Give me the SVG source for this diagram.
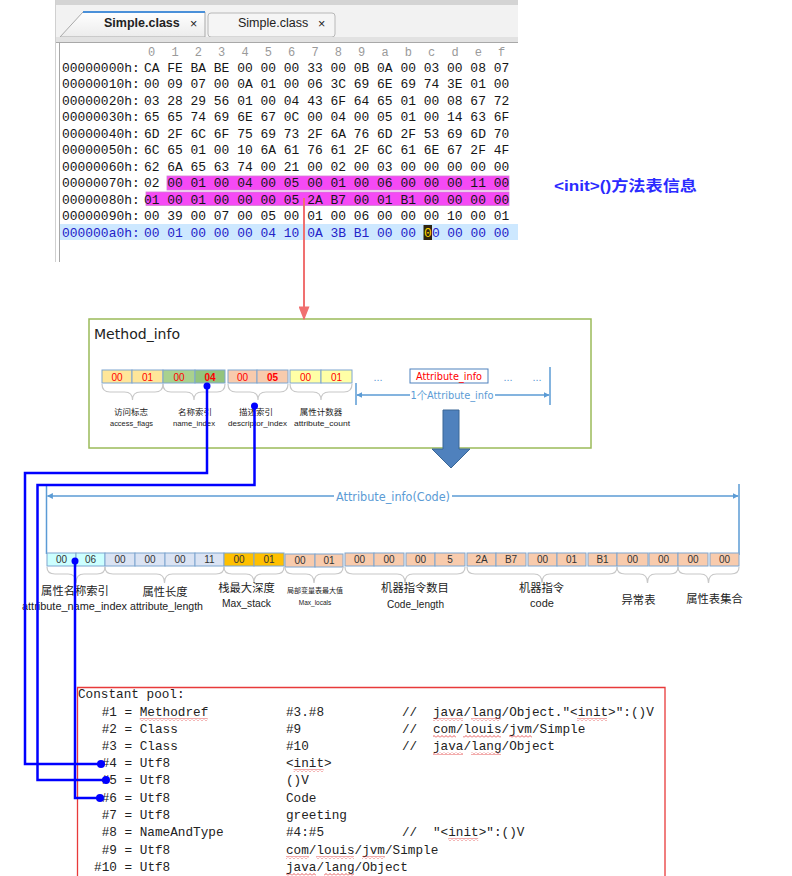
<svg xmlns="http://www.w3.org/2000/svg" width="792" height="876" viewBox="0 0 792 876">
  <defs>
    <style>
      .hex { font-family: "Liberation Mono", "DejaVu Sans Mono", monospace; font-size: 12.96px; fill: #161616; }
      .hexsel { fill: #2323c8; }
      .hdr { font-family: "Liberation Mono", monospace; font-size: 12px; fill: #9a9a9a; }
      .tab { font-family: "Liberation Sans", "Noto Sans", sans-serif; font-size: 12.5px; fill: #222; }
      .cp { font-family: "Liberation Mono", "Courier New", monospace; font-size: 12.7px; fill: #222; }
      .cell { stroke: #7ea6d0; stroke-width: 1; }
      .mtxt { font-family: "Liberation Sans", sans-serif; font-size: 10px; fill: #ff0000; text-anchor: middle; }
      .atxt { font-family: "Liberation Sans", sans-serif; font-size: 10px; fill: #333; text-anchor: middle; }
      .brace { fill: none; stroke: #c8c8c8; stroke-width: 1.2; }
      .zh9 { font-family: "Noto Sans CJK SC", sans-serif; font-size: 8.5px; fill: #222; text-anchor: middle; }
      .en7 { font-family: "Liberation Sans", sans-serif; font-size: 7.5px; fill: #222; text-anchor: middle; }
      .zh11 { font-family: "Noto Sans CJK SC", sans-serif; font-size: 11.3px; fill: #222; text-anchor: middle; }
      .en11 { font-family: "Liberation Sans", sans-serif; font-size: 11px; fill: #222; text-anchor: middle; }
      .hand { font-family: "DejaVu Sans", "Liberation Sans", sans-serif; fill: #5b9bd5; }
      .dots { font-family: "Liberation Sans", sans-serif; font-size: 11px; fill: #5b9bd5; text-anchor: middle; }
      .link { fill: none; stroke: #0000ff; stroke-width: 2.5; }
      .dot { fill: #0000ff; }
      .dim { fill: none; stroke: #5b9bd5; stroke-width: 1.5; }
      .wave { fill: url(#squiggle); }
    </style>
    <pattern id="squiggle" x="0" y="0" width="4" height="3" patternUnits="userSpaceOnUse">
      <path d="M0 2.5 L2 0.5 L4 2.5" fill="none" stroke="#e03030" stroke-width="0.8"/>
    </pattern>
    <marker id="dimEnd" viewBox="0 0 10 10" refX="9" refY="5" markerWidth="6" markerHeight="6" orient="auto-start-reverse" markerUnits="userSpaceOnUse">
      <path d="M0 0 L10 5 L0 10 z" fill="#5b9bd5"/>
    </marker>
    <marker id="redHead" viewBox="0 0 10 10" refX="9" refY="5" markerWidth="14" markerHeight="11" orient="auto" markerUnits="userSpaceOnUse" preserveAspectRatio="none">
      <path d="M0 0 L10 5 L0 10 z" fill="#f07070"/>
    </marker>
    <linearGradient id="tabGrad" x1="0" y1="0" x2="0" y2="1">
      <stop offset="0" stop-color="#ffffff"/>
      <stop offset="1" stop-color="#ececec"/>
    </linearGradient>
  </defs>

  <rect width="792" height="876" fill="#ffffff"/>

  <!-- hex editor window -->
  <g id="hex-editor">
    <rect x="55" y="0" width="463" height="42" fill="#f2f2f2"/>
    <rect x="55" y="0" width="463" height="5" fill="#d4d4d4"/>
    <polygon points="60,37 83,12 205,12 205,37" fill="url(#tabGrad)" stroke="#a9a9a9" stroke-width="1"/>
    <line x1="83" y1="12" x2="205" y2="12" stroke="#4a90d9" stroke-width="2"/>
    <text class="tab" x="104" y="27" font-weight="bold">Simple.class</text>
    <text class="tab" x="190" y="28" font-size="12">×</text>
    <rect x="208" y="13" width="127" height="24" rx="3" fill="#f5f5f5" stroke="#b8b8b8"/>
    <text class="tab" x="238" y="27">Simple.class</text>
    <text class="tab" x="318" y="28" font-size="12">×</text>
    <rect x="55" y="37" width="463" height="5" fill="#e2e2e2"/>
    <line x1="55" y1="42.5" x2="518" y2="42.5" stroke="#a8a8a8"/>
    <rect x="59.5" y="43" width="458.5" height="219" fill="#ffffff"/>
    <line x1="59.5" y1="43" x2="59.5" y2="262" stroke="#a8a8a8"/>
    <line x1="55.5" y1="0" x2="55.5" y2="262" stroke="#d0d0d0"/>

    <!-- column header -->
    <g class="hdr" text-anchor="middle">
      <text x="151.7" y="56">0</text><text x="175" y="56">1</text><text x="198.4" y="56">2</text><text x="221.7" y="56">3</text>
      <text x="245" y="56">4</text><text x="268.4" y="56">5</text><text x="291.7" y="56">6</text><text x="315" y="56">7</text>
      <text x="338.3" y="56">8</text><text x="361.7" y="56">9</text><text x="385" y="56">a</text><text x="408.3" y="56">b</text>
      <text x="431.7" y="56">c</text><text x="455" y="56">d</text><text x="478.3" y="56">e</text><text x="501.7" y="56">f</text>
    </g>

    <!-- highlighted method bytes and current row -->
    <rect x="167" y="176" width="342" height="14" fill="#f54af5" stroke="#d27fd2" stroke-width="0.8"/>
    <rect x="146" y="192" width="363" height="13.5" fill="#f54af5" stroke="#d27fd2" stroke-width="0.8"/>
    <rect x="60" y="224" width="458" height="16" fill="#cde8ff"/>
    <rect x="423.5" y="225" width="8.5" height="15" fill="#2e2410"/>

    <g class="hex">
      <text x="62" y="71.5">00000000h:</text><text x="143.9" y="71.5" xml:space="preserve">CA FE BA BE 00 00 00 33 00 0B 0A 00 03 00 08 07</text>
      <text x="62" y="88">00000010h:</text><text x="143.9" y="88" xml:space="preserve">00 09 07 00 0A 01 00 06 3C 69 6E 69 74 3E 01 00</text>
      <text x="62" y="104.5">00000020h:</text><text x="143.9" y="104.5" xml:space="preserve">03 28 29 56 01 00 04 43 6F 64 65 01 00 08 67 72</text>
      <text x="62" y="121">00000030h:</text><text x="143.9" y="121" xml:space="preserve">65 65 74 69 6E 67 0C 00 04 00 05 01 00 14 63 6F</text>
      <text x="62" y="137.5">00000040h:</text><text x="143.9" y="137.5" xml:space="preserve">6D 2F 6C 6F 75 69 73 2F 6A 76 6D 2F 53 69 6D 70</text>
      <text x="62" y="154">00000050h:</text><text x="143.9" y="154" xml:space="preserve">6C 65 01 00 10 6A 61 76 61 2F 6C 61 6E 67 2F 4F</text>
      <text x="62" y="170.5">00000060h:</text><text x="143.9" y="170.5" xml:space="preserve">62 6A 65 63 74 00 21 00 02 00 03 00 00 00 00 00</text>
      <text x="62" y="187">00000070h:</text><text x="143.9" y="187" xml:space="preserve">02 00 01 00 04 00 05 00 01 00 06 00 00 00 11 00</text>
      <text x="62" y="203.5">00000080h:</text><text x="143.9" y="203.5" xml:space="preserve">01 00 01 00 00 00 05 2A B7 00 01 B1 00 00 00 00</text>
      <text x="62" y="220">00000090h:</text><text x="143.9" y="220" xml:space="preserve">00 39 00 07 00 05 00 01 00 06 00 00 00 10 00 01</text>
      <text class="hexsel" x="62" y="236.5">000000a0h:</text>
      <text class="hexsel" x="143.9" y="236.5" xml:space="preserve">00 01 00 00 00 04 10 0A 3B B1 00 00</text>
      <text x="424" y="236.5" fill="#ffd700">0</text>
      <text class="hexsel" x="432" y="236.5">0</text>
      <text class="hexsel" x="447.2" y="236.5" xml:space="preserve">00 00 00</text>
    </g>
  </g>

  <!-- caption for the highlighted bytes -->
  <g id="caption">
    <text x="554" y="191" font-family="Liberation Sans, Noto Sans CJK SC, sans-serif" font-size="14.5" font-weight="bold" fill="#2b2bff" textLength="143" lengthAdjust="spacingAndGlyphs">&lt;init&gt;()方法表信息</text>
  </g>

  <!-- Method_info structure -->
  <g id="method-info">
    <rect x="89" y="319" width="502" height="129" fill="#ffffff" stroke="#9bbb59" stroke-width="1.5"/>
    <text x="94" y="339" font-family="DejaVu Sans, sans-serif" font-size="14.5" fill="#222" textLength="86" lengthAdjust="spacingAndGlyphs">Method_info</text>

    <rect class="cell" x="102" y="370" width="30" height="13" fill="#ffe699"/>
    <rect class="cell" x="132" y="370" width="31" height="13" fill="#ffe699"/>
    <rect class="cell" x="163" y="370" width="32" height="13" fill="#a9d18e"/>
    <rect class="cell" x="195" y="370" width="30" height="13" fill="#93c47d"/>
    <rect class="cell" x="228" y="370" width="29" height="13" fill="#f8cbad"/>
    <rect class="cell" x="257" y="370" width="31" height="13" fill="#f8cbad"/>
    <rect class="cell" x="290" y="370" width="31" height="13" fill="#ffffa6"/>
    <rect class="cell" x="321" y="370" width="31" height="13" fill="#ffffa6"/>
    <text class="mtxt" x="117" y="380.5">00</text>
    <text class="mtxt" x="147.5" y="380.5">01</text>
    <text class="mtxt" x="179" y="380.5">00</text>
    <text class="mtxt" x="210" y="380.5" font-weight="bold">04</text>
    <text class="mtxt" x="242.5" y="380.5">00</text>
    <text class="mtxt" x="272.5" y="380.5" font-weight="bold">05</text>
    <text class="mtxt" x="305.5" y="380.5">00</text>
    <text class="mtxt" x="336.5" y="380.5">01</text>

    <path class="brace" d="M102 384 C102 390 105 392 110 392 L124.5 392 C129.5 392 132.5 394 132.5 400 C132.5 394 135.5 392 140.5 392 L155 392 C160 392 163 390 163 384"/>
    <path class="brace" d="M163 384 C163 390 166 392 171 392 L186 392 C191 392 194 394 194 400 C194 394 197 392 202 392 L217 392 C222 392 225 390 225 384"/>
    <path class="brace" d="M228 384 C228 390 231 392 236 392 L250 392 C255 392 258 394 258 400 C258 394 261 392 266 392 L280 392 C285 392 288 390 288 384"/>
    <path class="brace" d="M290 384 C290 390 293 392 298 392 L313 392 C318 392 321 394 321 400 C321 394 324 392 329 392 L344 392 C349 392 352 390 352 384"/>

    <text class="zh9" x="131" y="415">访问标志</text>
    <text class="en7" x="131.5" y="426" textLength="43" lengthAdjust="spacingAndGlyphs">access_flags</text>
    <text class="zh9" x="195" y="415">名称索引</text>
    <text class="en7" x="194" y="426" textLength="42" lengthAdjust="spacingAndGlyphs">name_index</text>
    <text class="zh9" x="256" y="415">描述索引</text>
    <text class="en7" x="257.5" y="426" textLength="59" lengthAdjust="spacingAndGlyphs">descriptor_index</text>
    <text class="zh9" x="321" y="415">属性计数器</text>
    <text class="en7" x="322" y="426" textLength="56" lengthAdjust="spacingAndGlyphs">attribute_count</text>

    <text class="dots" x="378" y="381">...</text>
    <rect x="410" y="369" width="78" height="14" fill="#ffffff" stroke="#4f81bd" stroke-width="1"/>
    <text x="449" y="380" font-family="DejaVu Sans, sans-serif" font-size="10.5" fill="#ff0000" text-anchor="middle" textLength="66" lengthAdjust="spacingAndGlyphs">Attribute_info</text>
    <text class="dots" x="508" y="381">...</text>
    <text class="dots" x="537" y="381">...</text>

    <line class="dim" x1="356" y1="383" x2="356" y2="405"/>
    <line class="dim" x1="550" y1="367" x2="550" y2="405"/>
    <line class="dim" x1="357" y1="395" x2="549" y2="395" marker-start="url(#dimEnd)" marker-end="url(#dimEnd)"/>
    <rect x="410" y="388" width="85" height="14" fill="#ffffff"/>
    <text class="hand" x="452" y="399" font-size="10.5" text-anchor="middle" textLength="83" lengthAdjust="spacingAndGlyphs">1个Attribute_info</text>

    <polygon points="443,410 459,410 459,449 470,449 451,468 432,449 443,449" fill="#4f81bd" stroke="#3a6796" stroke-width="1"/>
  </g>

  <!-- Code attribute layout -->
  <g id="code-attribute">
    <line class="dim" x1="46.5" y1="484" x2="46.5" y2="554"/>
    <line class="dim" x1="739" y1="484" x2="739" y2="555"/>
    <line class="dim" x1="47.5" y1="496" x2="738" y2="496" marker-start="url(#dimEnd)" marker-end="url(#dimEnd)"/>
    <rect x="334" y="488" width="118" height="16" fill="#ffffff"/>
    <text class="hand" x="393" y="500.5" font-size="12" text-anchor="middle" textLength="114" lengthAdjust="spacingAndGlyphs">Attribute_info(Code)</text>

    <rect class="cell" x="47" y="553" width="29" height="13" fill="#ccffff"/>
    <rect class="cell" x="76" y="553" width="29" height="13" fill="#ccffff"/>
    <rect class="cell" x="105" y="553" width="30" height="13" fill="#dae3f3"/>
    <rect class="cell" x="135" y="553" width="30" height="13" fill="#dae3f3"/>
    <rect class="cell" x="165" y="553" width="30" height="13" fill="#dae3f3"/>
    <rect class="cell" x="195" y="553" width="29" height="13" fill="#dae3f3"/>
    <rect class="cell" x="224" y="553" width="30" height="13" fill="#ffc000"/>
    <rect class="cell" x="254" y="553" width="30" height="13" fill="#ffc000"/>
    <rect class="cell" x="285" y="554" width="30" height="13" fill="#f8cbad"/>
    <rect class="cell" x="315" y="554" width="28" height="13" fill="#f8cbad"/>
    <rect class="cell" x="345" y="553" width="29" height="13" fill="#f8cbad"/>
    <rect class="cell" x="374" y="553" width="30" height="13" fill="#f8cbad"/>
    <rect class="cell" x="406" y="553" width="29" height="13" fill="#f8cbad"/>
    <rect class="cell" x="435" y="553" width="30" height="13" fill="#f8cbad"/>
    <rect class="cell" x="467" y="553" width="29" height="13" fill="#f8cbad"/>
    <rect class="cell" x="496" y="553" width="30" height="13" fill="#f8cbad"/>
    <rect class="cell" x="528" y="553" width="29" height="13" fill="#f8cbad"/>
    <rect class="cell" x="557" y="553" width="29" height="13" fill="#f8cbad"/>
    <rect class="cell" x="588" y="553" width="29" height="13" fill="#f8cbad"/>
    <rect class="cell" x="617" y="553" width="31" height="13" fill="#f8cbad"/>
    <rect class="cell" x="649" y="553" width="29" height="13" fill="#f8cbad"/>
    <rect class="cell" x="678" y="553" width="30" height="13" fill="#f8cbad"/>
    <rect class="cell" x="710" y="553" width="29" height="13" fill="#f8cbad"/>

    <text class="atxt" x="61.5" y="563">00</text>
    <text class="atxt" x="90.5" y="563">06</text>
    <text class="atxt" x="120" y="563">00</text>
    <text class="atxt" x="150" y="563">00</text>
    <text class="atxt" x="180" y="563">00</text>
    <text class="atxt" x="209.5" y="563">11</text>
    <text class="atxt" x="239" y="563">00</text>
    <text class="atxt" x="269" y="563">01</text>
    <text class="atxt" x="300" y="564">00</text>
    <text class="atxt" x="329" y="564">01</text>
    <text class="atxt" x="359.5" y="563">00</text>
    <text class="atxt" x="389" y="563">00</text>
    <text class="atxt" x="420.5" y="563">00</text>
    <text class="atxt" x="450" y="563">5</text>
    <text class="atxt" x="481.5" y="563">2A</text>
    <text class="atxt" x="511" y="563">B7</text>
    <text class="atxt" x="542.5" y="563">00</text>
    <text class="atxt" x="571.5" y="563">01</text>
    <text class="atxt" x="602.5" y="563">B1</text>
    <text class="atxt" x="632.5" y="563">00</text>
    <text class="atxt" x="663.5" y="563">00</text>
    <text class="atxt" x="693" y="563">00</text>
    <text class="atxt" x="724.5" y="563">00</text>

    <path class="brace" d="M47 567 C47 572 50 574 55 574 L68 574 C73 574 76 577 76 583 C76 577 79 574 84 574 L97 574 C102 574 105 572 105 567"/>
    <path class="brace" d="M105 567 C105 572 108 574 113 574 L156.5 574 C161.5 574 164.5 577 164.5 583 C164.5 577 167.5 574 172.5 574 L216 574 C221 574 224 572 224 567"/>
    <path class="brace" d="M224 567 C224 572 227 574 232 574 L246 574 C251 574 254 577 254 583 C254 577 257 574 262 574 L276 574 C281 574 284 572 284 567"/>
    <path class="brace" d="M285 567 C285 572 288 574 293 574 L306 574 C311 574 314 577 314 583 C314 577 317 574 322 574 L335 574 C340 574 343 572 343 567"/>
    <path class="brace" d="M345 567 C345 572 348 574 353 574 L397 574 C402 574 405 577 405 583 C405 577 408 574 413 574 L457 574 C462 574 465 572 465 567"/>
    <path class="brace" d="M467 567 C467 572 470 574 475 574 L534 574 C539 574 542 577 542 583 C542 577 545 574 550 574 L609 574 C614 574 617 572 617 567"/>
    <path class="brace" d="M617 567 C617 572 620 574 625 574 L639.5 574 C644.5 574 647.5 577 647.5 583 C647.5 577 650.5 574 655.5 574 L670 574 C675 574 678 572 678 567"/>
    <path class="brace" d="M678 567 C678 572 681 574 686 574 L700.5 574 C705.5 574 708.5 577 708.5 583 C708.5 577 711.5 574 716.5 574 L731 574 C736 574 739 572 739 567"/>

    <text class="zh11" x="75" y="594.5">属性名称索引</text>
    <text class="en11" x="74.5" y="610" textLength="105" lengthAdjust="spacingAndGlyphs">attribute_name_index</text>
    <text class="zh11" x="165" y="596">属性长度</text>
    <text class="en11" x="166.5" y="610" textLength="73" lengthAdjust="spacingAndGlyphs">attribute_length</text>
    <text class="zh11" x="246.5" y="592">栈最大深度</text>
    <text class="en11" x="246.5" y="607" textLength="49" lengthAdjust="spacingAndGlyphs">Max_stack</text>
    <text x="315" y="593" font-family="Noto Sans CJK SC, sans-serif" font-size="7" fill="#222" text-anchor="middle">局部变量表最大值</text>
    <text x="315" y="605" font-family="Liberation Sans, sans-serif" font-size="6.5" fill="#222" text-anchor="middle">Max_locals</text>
    <text class="zh11" x="415" y="592">机器指令数目</text>
    <text class="en11" x="415.5" y="608" textLength="57" lengthAdjust="spacingAndGlyphs">Code_length</text>
    <text class="zh11" x="541.5" y="592">机器指令</text>
    <text class="en11" x="542" y="607">code</text>
    <text class="zh11" x="638.5" y="604">异常表</text>
    <text class="zh11" x="714.5" y="603">属性表集合</text>
  </g>

  <!-- constant pool listing -->
  <g id="constant-pool">
    <path d="M77.5 876 L77.5 687.5 L665 687.5 L665 876" fill="none" stroke="#e83a3a" stroke-width="1.3"/>
    <g class="cp">
      <text x="78" y="698">Constant pool:</text>
      <text x="101.7" y="716">#1 = Methodref</text>
      <text x="101.7" y="733">#2 = Class</text>
      <text x="101.7" y="750">#3 = Class</text>
      <text x="101.7" y="767">#4 = Utf8</text>
      <text x="101.7" y="784">#5 = Utf8</text>
      <text x="101.7" y="802">#6 = Utf8</text>
      <text x="101.7" y="819">#7 = Utf8</text>
      <text x="101.7" y="836">#8 = NameAndType</text>
      <text x="101.7" y="854">#9 = Utf8</text>
      <text x="94.1" y="871">#10 = Utf8</text>

      <text x="286" y="716">#3.#8</text>
      <text x="286" y="733">#9</text>
      <text x="286" y="750">#10</text>
      <text x="286" y="767">&lt;init&gt;</text>
      <text x="286" y="784">()V</text>
      <text x="286" y="802">Code</text>
      <text x="286" y="819">greeting</text>
      <text x="286" y="836">#4:#5</text>
      <text x="286" y="854">com/louis/jvm/Simple</text>
      <text x="286" y="871">java/lang/Object</text>

      <text x="402" y="716">//</text>
      <text x="402" y="733">//</text>
      <text x="402" y="750">//</text>
      <text x="402" y="836">//</text>
      <text x="433" y="716">java/lang/Object."&lt;init&gt;":()V</text>
      <text x="433" y="733">com/louis/jvm/Simple</text>
      <text x="433" y="750">java/lang/Object</text>
      <text x="433" y="836">"&lt;init&gt;":()V</text>
    </g>
    <!-- spell-check squiggles -->
    <rect class="wave" x="139.7" y="718" width="68" height="3"/>
    <rect class="wave" x="433" y="718" width="30" height="3"/>
    <rect class="wave" x="471" y="718" width="30" height="3"/>
    <rect class="wave" x="577" y="718" width="30" height="3"/>
    <rect class="wave" x="433" y="735" width="23" height="3"/>
    <rect class="wave" x="463" y="735" width="38" height="3"/>
    <rect class="wave" x="509" y="735" width="23" height="3"/>
    <rect class="wave" x="433" y="752" width="30" height="3"/>
    <rect class="wave" x="471" y="752" width="30" height="3"/>
    <rect class="wave" x="293.6" y="769" width="30" height="3"/>
    <rect class="wave" x="448.2" y="838" width="30" height="3"/>
    <rect class="wave" x="286" y="856" width="23" height="3"/>
    <rect class="wave" x="316" y="856" width="38" height="3"/>
    <rect class="wave" x="362" y="856" width="23" height="3"/>
    <rect class="wave" x="286" y="873" width="30" height="3"/>
    <rect class="wave" x="324" y="873" width="30" height="3"/>
  </g>

  <!-- connectors -->
  <g id="connectors">
    <line x1="304" y1="198" x2="304" y2="319" stroke="#f07070" stroke-width="2" marker-end="url(#redHead)"/>
    <polyline class="link" points="207,386 207,473 25,473 25,764 101,764"/>
    <polyline class="link" points="254.5,406 254.5,485 37.5,485 37.5,780 106,780"/>
    <polyline class="link" points="75,561 75,798 100,798"/>
    <circle class="dot" cx="207" cy="386" r="3.5"/>
    <circle class="dot" cx="254.5" cy="406" r="3.5"/>
    <circle class="dot" cx="75" cy="561" r="3.5"/>
    <circle class="dot" cx="101" cy="764" r="4"/>
    <circle class="dot" cx="106" cy="780" r="4"/>
    <circle class="dot" cx="100" cy="798" r="4"/>
  </g>
</svg>
